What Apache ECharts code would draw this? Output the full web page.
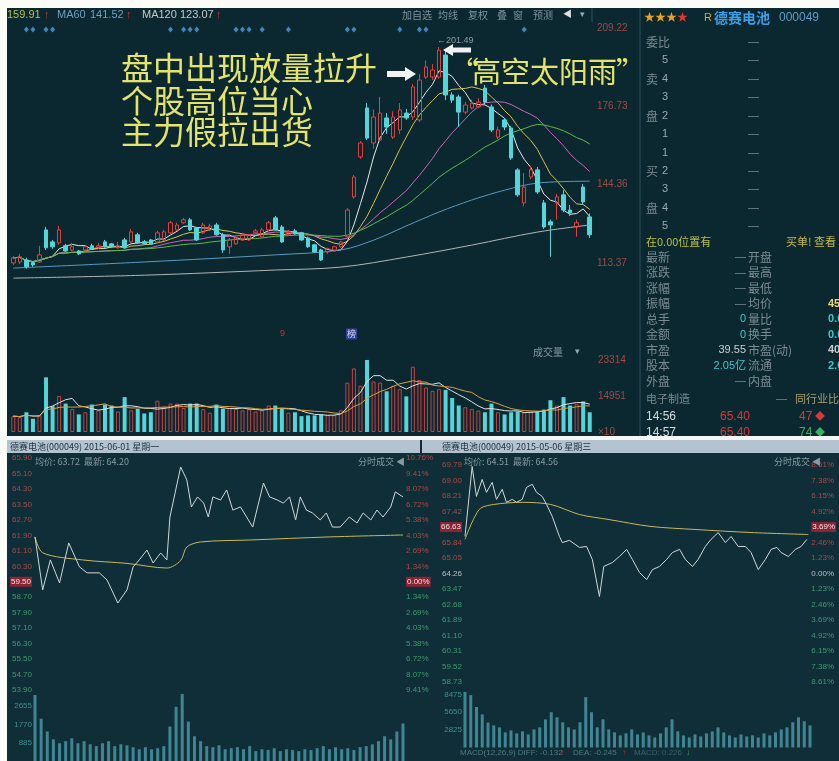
<!DOCTYPE html>
<html><head><meta charset="utf-8">
<script src="https://cdn.jsdelivr.net/npm/echarts@6/dist/echarts.min.js"></script>
<style>html,body{margin:0;padding:0;background:#fff;}#chart{width:839px;height:761px;}</style>
</head><body><div id="chart"></div>
<script>
// ---------- Daily K-line (adjusted prices) ----------
const kOpen = [113.3,113.7,114.5,113.5,113.7,126.8,121.9,121.5,120.3,118.6,
  118.2,118.6,120.3,119.5,121.9,121.1,119.5,122.7,121.9,124.8,
  122.0,122.7,121.9,122.7,125.6,126.8,129.7,130.9,127.6,125.6,
  126.8,128.8,124.8,119.9,121.1,122.7,122.7,125.6,123.9,126.8,
  131.7,128.0,124.8,126.4,125.6,123.5,120.7,118.6,117.8,118.6,
  119.9,124.0,140.3,156.6,176.6,162.3,163.5,172.5,164.7,167.6,
  174.5,172.9,171.7,189.2,189.2,189.2,198.2,181.9,181.1,174.9,
  176.6,177.0,184.7,177.0,164.7,171.7,168.4,151.3,137.8,148.4,
  151.3,137.8,130.1,137.8,141.1,134.9,128.0,144.3,132.1];
const kClose = [115.4,115.8,111.7,112.5,116.6,119.5,119.9,126.8,118.2,119.9,
  117.0,119.9,119.1,120.3,119.9,119.9,120.3,119.5,126.0,121.5,
  121.1,121.1,125.6,126.0,129.7,128.8,130.9,126.8,122.7,128.8,
  128.4,124.8,118.6,122.7,123.5,124.8,124.8,126.4,126.8,129.7,
  126.8,121.9,126.0,125.2,122.7,119.9,117.8,114.5,119.1,119.9,
  121.9,134.9,148.4,162.3,164.3,172.9,174.5,168.8,172.9,175.8,
  172.5,185.2,188.0,193.3,192.1,200.2,181.9,179.8,174.9,177.8,
  178.6,179.0,179.0,167.6,167.6,168.8,156.2,141.1,144.3,151.3,
  142.3,128.0,128.8,140.3,134.9,133.7,129.7,138.2,124.8];
const kLow = [112.5,112.9,111.0,111.7,113.3,118.6,119.1,120.7,117.8,118.2,
  116.6,118.2,118.6,119.1,119.5,119.5,119.1,119.1,121.5,121.1,
  120.7,120.7,121.5,122.3,125.2,126.4,129.3,126.4,122.3,125.2,
  126.4,124.4,117.4,117.0,120.7,122.3,122.3,125.2,123.5,126.4,
  126.4,121.5,124.4,124.8,122.3,119.5,117.4,114.1,117.0,118.2,
  119.5,123.5,139.5,155.8,163.5,160.0,162.7,166.0,163.9,166.0,
  171.7,171.7,170.9,188.4,188.0,188.4,179.8,178.6,168.8,174.0,
  176.0,176.6,178.2,166.8,163.9,167.6,155.4,140.3,136.5,147.5,
  141.5,127.2,115.8,131.0,134.0,132.5,124.0,137.0,123.5];
const kHigh = [116.2,117.0,115.4,114.1,120.3,128.0,122.7,128.4,121.1,121.5,
  118.6,120.7,121.1,121.5,122.7,121.5,121.9,123.5,127.2,125.6,
  122.7,123.1,126.4,126.8,130.5,129.7,131.7,131.7,128.0,129.7,
  129.3,129.7,125.6,123.5,124.4,125.6,125.2,127.2,127.6,130.5,
  132.5,128.8,126.8,127.2,126.0,124.0,121.1,119.1,119.5,120.3,
  122.3,135.7,149.2,163.1,178.6,176.0,181.1,174.5,175.3,178.6,
  176.2,186.4,190.4,196.0,194.5,201.49,199.8,183.0,182.0,179.0,
  180.0,180.5,186.0,178.0,169.0,172.5,169.2,152.0,150.0,153.0,
  152.5,139.0,131.0,141.5,143.0,137.0,131.0,145.5,133.5];
const kVolume = [6600,6200,8200,5500,6900,22700,10700,15000,11800,9600,
  7300,8200,11400,9000,11400,11000,8500,14500,9000,9600,
  7700,8200,13000,10500,11800,11800,10000,11800,11800,9500,
  8000,11400,9700,10000,9600,9000,9500,8500,9000,11000,
  11000,10000,8000,8200,6600,6900,6900,7300,7000,7000,
  9000,20500,26400,19200,29900,21000,20500,16900,19200,17800,
  14800,27100,21600,18500,17100,17800,17500,14100,11000,10300,
  9600,8900,8200,11800,8200,7300,8200,8600,8200,8500,
  8600,9300,13200,11000,14500,11000,11600,12700,8200];
const categories = kClose.map((_, i) => 'D' + (i + 1));
// long moving averages at a few candles: [candle index, value]
const ma60Read = [[0,111.2],[20,113.7],[40,116.6],[50,118.6],[55,122.6],[60,128.4],[65,134.1],[70,139.0],[75,143.0],[80,145.9],[88,146.7]];
const ma120Read = [[0,107.1],[20,108.3],[40,110.4],[50,111.6],[60,115.7],[70,120.6],[80,125.9],[88,128.8]];
const eventMarkers = [2,3,5,6,24,26,27,28,34,35,36,38,42,51,52,59,62,63,78];
const priceTickLabels = ['113.37','144.36','176.73','209.22'];
const volTickLabels = ['×10','14951','23314'];

// ---------- Intraday 2015-06-01 ----------
const lMin = [0,5,10,16,22,29,34,42,47,54,60,64,68,73,77,82,86,88,95,99,102,106,110,113,116,121,125,129,134,142,149,153,158,162,166,170,173,177,181,186,190,194,199,205,210,214,219,223,227,232,235,240];
const lPrice = [61.82,59.08,60.63,59.44,61.51,60.27,59.96,59.96,59.59,58.40,59.08,60.27,60.63,61.14,60.47,60.99,60.63,62.85,65.44,64.77,63.37,63.89,63.57,62.85,63.89,63.73,64.25,63.21,63.37,62.33,64.61,63.89,63.73,63.57,63.89,62.70,63.89,63.21,63.06,62.70,63.06,62.33,62.33,62.85,62.54,63.06,62.70,63.21,62.85,63.37,64.15,63.89];
const lAvgMin = [0,5,31,60,86,95,99,108,140,192,240];
const lAvg = [61.82,61.0,60.63,60.45,60.21,60.6,61.30,61.56,61.66,61.82,61.92];
const volMin = [0,4,8,12,16,20,24,28,32,36,40,44,48,52,56,60,64,68,72,76,80,84,88,92,96,100,104,108,112,116,120,124,128,132,136,140,144,148,152,156,160,164,168,172,176,180,184,188,192,196,200,204,208,212,216,220,224,228,232,236,240];
const lVol = [3200,2050,1430,1050,860,960,1100,860,960,810,720,860,960,720,810,760,670,570,670,570,620,720,1670,2630,3250,1910,1200,960,720,670,760,570,620,670,570,720,480,570,530,620,480,570,530,480,570,530,620,720,570,670,570,620,530,670,720,810,960,1200,1050,1430,1820];
const lPrevClose = 59.50, lStep = 0.80;

// ---------- Intraday 2015-05-06 ----------
const rMin = [0,5,8,12,15,19,22,26,29,33,36,40,43,47,50,54,57,61,66,68,73,80,85,89,94,97,103,108,113,117,122,127,131,136,141,145,150,154,159,163,168,172,177,182,186,191,196,200,205,210,214,218,221,226,231,235,239];
const rPrice = [66.15,69.72,68.19,69.06,68.40,68.91,68.04,68.55,67.89,68.04,67.89,68.04,68.65,68.81,68.40,68.19,67.78,67.17,66.15,65.84,65.95,65.59,65.64,64.98,63.09,64.62,64.82,65.13,65.49,64.98,64.31,63.95,64.46,64.62,64.98,65.33,65.49,64.98,64.62,64.98,65.64,66.00,66.35,65.84,66.15,65.64,65.64,65.33,64.46,64.98,65.49,65.59,65.33,65.13,65.49,65.64,66.00];
const rAvgMin = [0,10,20,40,60,80,100,130,160,200,240];
const rAvg = [66.00,67.53,67.78,67.89,67.78,67.27,67.02,66.66,66.51,66.35,66.25];
const rVol = [8900,8400,6500,5300,4000,3550,3230,2420,2740,2260,2580,2100,2900,3230,4500,5650,4840,4040,3230,2900,4040,8070,5650,3230,4520,2900,2420,1940,2260,2900,2100,2420,1940,1610,2260,3230,4520,2580,1940,1610,2100,1780,2260,2580,3230,2420,1940,1610,2100,1780,1940,1610,2260,1940,2420,2900,3230,4040,4840,4200,3550];
const rPrevClose = 64.26, rStep = 0.79;

// ---------- helpers ----------
function ma(arr, n) {
  return arr.map((_, i) => {
    const s = Math.max(0, i - n + 1); let t = 0;
    for (let k = s; k <= i; k++) t += arr[k];
    return +(t / (i - s + 1)).toFixed(2);
  });
}
function onTick(v, min, step) {
  const k = Math.round((v - min) / step);
  return Math.abs(v - (min + k * step)) < step * 0.02 ? k : -1;
}
const FONT = '"Liberation Sans","Noto Sans CJK SC",sans-serif';
const CJK = '"Noto Sans CJK SC",sans-serif';
function T(text, x, y, fill, size, o) {
  o = o || {};
  return {type:'text', x:x, y:y, z:o.z||100, silent:true,
    style:{text:text, fill:fill, font:(o.weight?o.weight+' ':'')+size+'px '+(o.family||FONT),
      textAlign:o.align||'left', align:o.align||'left', textVerticalAlign:'middle', verticalAlign:'middle',
      backgroundColor:o.bg, padding:o.pad}};
}

const UP = '#e0403c', DOWN = '#52d6da';
const lMinP = lPrevClose - 7 * lStep, lMaxP = lPrevClose + 8 * lStep;
const rMinP = rPrevClose - 7 * rStep, rMaxP = rPrevClose + 7 * rStep;

function priceAxis(grid, pos, min, max, step, pc, mode, hlIdx) {
  return {type:'value', gridIndex:grid, position:pos, min:min, max:max + step*0.004, interval:step,
    axisLine:{show:false}, axisTick:{show:false}, splitLine:{show:false},
    axisLabel:{fontSize:8, margin:3, fontFamily:FONT,
      formatter:function(v){
        const k = onTick(v, min, step); if (k < 0) return '';
        const p = min + k*step;
        const txt = mode === 'pct' ? (Math.abs(p-pc) < 1e-6 ? '0.00%' : (Math.abs((p-pc)/pc*100)).toFixed(2)+'%') : p.toFixed(2);
        return k === hlIdx ? '{h|' + txt + '}' : txt;
      },
      color:function(v){ return v > pc + 1e-6 ? '#a84a4a' : (v < pc - 1e-6 ? '#3f9a72' : '#b8c0c0'); },
      rich:{h:{backgroundColor:'#8a2434', color:'#f0e0e0', fontSize:8, padding:[1,1]}}}};
}
function volAxis(grid, max, step, color) {
  return {type:'value', gridIndex:grid, position:'left', min:0, max:max, interval:step,
    axisLine:{show:false}, axisTick:{show:false}, splitLine:{show:false},
    axisLabel:{fontSize:8, margin:3, color:color, fontFamily:FONT,
      formatter:function(v){ const k = onTick(v, 0, step); if (k <= 0 || v >= max - 1) return ''; return String(Math.round(k*step)); }}};
}

const chart = echarts.init(document.getElementById('chart'), null, {renderer:'canvas'});

const series = [];
series.push({type:'candlestick', xAxisIndex:0, yAxisIndex:0, barWidth:4,
  data:kOpen.map((o,i)=>[o,kClose[i],kLow[i],kHigh[i]]),
  itemStyle:{color:'rgba(0,0,0,0)', color0:DOWN, borderColor:UP, borderColor0:DOWN, borderWidth:1}, z:5});
[[5,'#e6e6e6'],[10,'#d8c050'],[20,'#c866b8'],[30,'#5cb84a']].forEach(([n,c])=>{
  series.push({type:'line', xAxisIndex:0, yAxisIndex:0, data:ma(kClose,n), symbol:'none', lineStyle:{width:1,color:c}, z:4});
});
series.push({type:'line', xAxisIndex:0, yAxisIndex:0, data:ma60Read, smooth:0.35, symbol:'none', lineStyle:{width:1,color:'#5a98c0'}, z:4});
series.push({type:'line', xAxisIndex:0, yAxisIndex:0, data:ma120Read, smooth:0.35, symbol:'none', lineStyle:{width:1,color:'#b4b4b4'}, z:4});
series.push({type:'scatter', xAxisIndex:0, yAxisIndex:0, data:eventMarkers.map(i=>[i,208.6]), symbol:'diamond', symbolSize:[5,6], itemStyle:{color:'#4a9fe0'}, z:6});
series.push({type:'bar', xAxisIndex:1, yAxisIndex:1, barWidth:4,
  data:kVolume.map((v,i)=> kClose[i] >= kOpen[i]
    ? {value:v, itemStyle:{color:'rgba(0,0,0,0)', borderColor:'#c84040', borderWidth:1}}
    : {value:v, itemStyle:{color:DOWN}})});
series.push({type:'line', xAxisIndex:1, yAxisIndex:1, data:ma(kVolume,5), symbol:'none', lineStyle:{width:1,color:'#e0e0e0'}, z:4});
series.push({type:'line', xAxisIndex:1, yAxisIndex:1, data:ma(kVolume,10), symbol:'none', lineStyle:{width:1,color:'#d8a040'}, z:4});
// intraday left
series.push({type:'line', xAxisIndex:2, yAxisIndex:2, data:lAvgMin.map((m,i)=>[m,lAvg[i]]), smooth:0.3, symbol:'none', lineStyle:{width:1,color:'#c8b860'}});
series.push({type:'line', xAxisIndex:2, yAxisIndex:2, data:lMin.map((m,i)=>[m,lPrice[i]]), symbol:'none', lineStyle:{width:1,color:'#d0d8d8'}});
series.push({type:'bar', xAxisIndex:3, yAxisIndex:4, barWidth:3, data:volMin.map((m,i)=>[m,lVol[i]]), itemStyle:{color:'#428592'}});
// intraday right
series.push({type:'line', xAxisIndex:4, yAxisIndex:5, data:rAvgMin.map((m,i)=>[m,rAvg[i]]), smooth:0.3, symbol:'none', lineStyle:{width:1,color:'#c8b860'}});
series.push({type:'line', xAxisIndex:4, yAxisIndex:5, data:rMin.map((m,i)=>[m,rPrice[i]]), symbol:'none', lineStyle:{width:1,color:'#d0d8d8'}});
series.push({type:'bar', xAxisIndex:5, yAxisIndex:7, barWidth:3, data:volMin.map((m,i)=>[m,rVol[i]]), itemStyle:{color:'#428592'}});

const hidX = (g, type) => type === 'category'
  ? {type:'category', gridIndex:g, data:categories, show:false, boundaryGap:true}
  : {type:'value', gridIndex:g, min:0, max:240, show:false};

const G = [];
// backgrounds & frames
G.push({type:'rect', z:-10, silent:true, shape:{x:7,y:440,width:832,height:321}, style:{fill:'#0f2e37'}});
G.push({type:'rect', z:200, silent:true, shape:{x:0,y:0,width:7,height:761}, style:{fill:'#fbfbf8'}});
G.push({type:'rect', z:200, silent:true, shape:{x:0,y:0,width:839,height:8}, style:{fill:'#fbfbf8'}});
G.push({type:'rect', z:200, silent:true, shape:{x:0,y:436,width:839,height:4}, style:{fill:'#f4f6f6'}});
G.push({type:'rect', z:150, silent:true, shape:{x:7,y:440,width:413,height:13}, style:{fill:'#b3c4d0'}});
G.push({type:'rect', z:150, silent:true, shape:{x:422,y:440,width:417,height:13}, style:{fill:'#b3c4d0'}});
G.push({type:'line', z:50, silent:true, shape:{x1:640,y1:8,x2:640,y2:436}, style:{stroke:'#33505a', lineWidth:1}});
G.push({type:'line', z:50, silent:true, shape:{x1:592,y1:8,x2:592,y2:22}, style:{stroke:'#33505a', lineWidth:1}});
// top header
G.push(T('159.91',7,15,'#b6c050',11));
G.push(T('↑',44,15,'#e03030',11));
G.push(T('MA60',57,15,'#6f9fc0',11));
G.push(T('141.52',90,15,'#6f9fc0',11));
G.push(T('↑',126,15,'#e03030',11));
G.push(T('MA120',142,15,'#c8c8c8',11));
G.push(T('123.07',180,15,'#c8c8c8',11));
G.push(T('↑',216,15,'#e03030',11));
G.push(T('加自选',402,15,'#7f929c',10,{family:CJK}));
G.push(T('均线',438,15,'#7f929c',10,{family:CJK}));
G.push(T('复权',468,15,'#7f929c',10,{family:CJK}));
G.push(T('叠',497,15,'#7f929c',10,{family:CJK}));
G.push(T('窗',513,15,'#7f929c',10,{family:CJK}));
G.push(T('预测',533,15,'#7f929c',10,{family:CJK}));
G.push(T('◀',563,15,'#e0e0e0',9));
G.push(T('▾',580,15,'#9aaab0',9));
G.push(T('←201.49',437,41,'#8a9aa6',9));
// annotations
const ANN = '#e4e46c';
G.push(T('盘中出现放量拉升',121,68,ANN,32,{family:CJK}));
G.push(T('个股高位当心',121,101,ANN,32,{family:CJK}));
G.push(T('主力假拉出货',121,132,ANN,32,{family:CJK}));
G.push(T('“',449,72,ANN,30,{family:CJK}));
G.push(T('高空太阳雨',472,72,ANN,29,{family:CJK}));
G.push(T('”',616,72,ANN,30,{family:CJK}));
G.push({type:'polygon', z:120, silent:true, shape:{points:[[387,71],[405,71],[405,67],[416,74],[405,81],[405,77],[387,77]]}, style:{fill:'#f2f2f2'}});
G.push({type:'polygon', z:120, silent:true, shape:{points:[[443,50],[453,44],[453,47.5],[471,47.5],[471,52.5],[453,52.5],[453,56]]}, style:{fill:'#f2f2f2'}});
// small markers above volume
G.push(T('9',280,334,'#c83030',9));
G.push(T('榜',346,334,'#dcdcf4',9,{family:CJK, bg:'#34409a', pad:[1,1]}));
G.push(T('成交量',533,352,'#8898a2',10,{family:CJK}));
G.push(T('▾',575,352,'#9aaab0',9));
// right info panel
G.push(T('★★★',644,18,'#f0a020',11));
G.push(T('★',677,18,'#e03a2a',11));
G.push(T('R',704,18,'#d8a828',11));
G.push(T('德赛电池',714,18,'#3c9ee6',14,{family:CJK, weight:'bold'}));
G.push(T('000049',779,18,'#5e9ec4',12));
const GRAY = '#7b8b93';
G.push(T('委比',646,42,GRAY,12,{family:CJK}));
G.push(T('—',748,42,GRAY,11));
const bookRows = [['',5,60],['卖',4,79],['',3,97],['盘',2,116],['',1,134],['',1,153],['买',2,171],['',3,189],['盘',4,208],['',5,226]];
bookRows.forEach(([lab,n,y])=>{
  if (lab) G.push(T(lab,646,y,GRAY,12,{family:CJK}));
  G.push(T(String(n),662,y,'#9aa8b0',11));
  G.push(T('—',748,y,GRAY,11));
});
G.push(T('在0.00位置有',646,242,'#b6c044',11,{family:CJK}));
G.push(T('买单! 查看',786,242,'#c8b844',11,{family:CJK}));
const infoRows = [
  ['最新','—','开盘','', '#a8b4b8'],
  ['涨跌','—','最高','', '#a8b4b8'],
  ['涨幅','—','最低','', '#a8b4b8'],
  ['振幅','—','均价','45.53', '#e8d870'],
  ['总手','0','量比','0.00', '#3cc8c8'],
  ['金额','0','换手','0.00%', '#3cc8c8'],
  ['市盈','39.55','市盈(动)','40.12', '#c8d0d0'],
  ['股本','2.05亿','流通','2.03亿', '#3cc8c8'],
  ['外盘','—','内盘','', '#a8b4b8']];
infoRows.forEach((r,i)=>{
  const y = 257 + i*15.5;
  G.push(T(r[0],646,y,GRAY,12,{family:CJK}));
  const vc = r[1] === '—' ? GRAY : (r[1] === '39.55' ? '#c8d0d0' : '#3cc8c8');
  G.push(T(r[1],746,y,vc,11,{align:'right'}));
  G.push(T(r[2],748,y,GRAY,12,{family:CJK}));
  if (r[3]) G.push(T(r[3], 828, y, r[4], 11, {weight:'bold'}));
});
G.push(T('电子制造',646,399,GRAY,11,{family:CJK}));
G.push(T('—',776,399,GRAY,11));
G.push(T('同行业比',795,399,'#a8a070',11,{family:CJK}));
G.push(T('14:56',646,417,'#d4dcdc',12));
G.push(T('65.40',720,417,'#d83838',12));
G.push(T('47',799,417,'#d83838',12));
G.push(T('◆',815,417,'#d83838',10));
G.push(T('14:57',646,433,'#d4dcdc',12));
G.push(T('65.40',720,433,'#d83838',12));
G.push(T('74',799,433,'#3cb060',12));
G.push(T('◆',815,433,'#3cb060',10));
// intraday headers
G.push(T('德赛电池(000049) 2015-06-01 星期一',10,446.5,'#233442',9,{family:CJK, z:160}));
G.push(T('德赛电池(000049) 2015-05-06 星期三',442,446.5,'#233442',9,{family:CJK, z:160}));
G.push(T('均价: 63.72  最新: 64.20',35,462,'#8a9aa2',9,{family:CJK}));
G.push(T('分时成交 ◀',358,462,'#8a9aa2',9,{family:CJK}));
G.push(T('均价: 64.51  最新: 64.56',464,462,'#8a9aa2',9,{family:CJK}));
G.push(T('分时成交 ◀',774,462,'#8a9aa2',9,{family:CJK}));
G.push(T('MACD(12,26,9) DIFF: -0.132',460,753,'#4c7c88',8));
G.push(T('↑',560,753,'#c83030',8));
G.push(T('DEA: -0.245',573,753,'#4c7c88',8));
G.push(T('↑',622,753,'#c83030',8));
G.push(T('MACD: 0.226',634,753,'#3c6470',8));
G.push(T('↓',686,753,'#3cb060',8));

const option = {
  animation:false,
  backgroundColor:'#0b2830',
  textStyle:{fontFamily:FONT},
  grid:[
    {left:10, top:28, width:583, height:313},
    {left:10, top:360, width:583, height:72},
    {left:35, top:458, width:368, height:232},
    {left:35, top:688, width:368, height:75},
    {left:465, top:465, width:345, height:217},
    {left:465, top:677, width:345, height:70.5}
  ],
  xAxis:[hidX(0,'category'), hidX(1,'category'), hidX(2), hidX(3), hidX(4), hidX(5)],
  yAxis:[
    {type:'value', gridIndex:0, position:'right', min:81.42, max:209.25, interval:31.95,
      axisLine:{show:false}, axisTick:{show:false}, splitLine:{show:false},
      axisLabel:{margin:4, fontSize:10, color:'#a04a48', fontFamily:FONT,
        formatter:function(v){ const k = onTick(v,81.42,31.95); return k >= 1 && k <= 4 ? priceTickLabels[k-1] : ''; }}},
    {type:'value', gridIndex:1, position:'right', min:0, max:29910, interval:14951,
      axisLine:{show:false}, axisTick:{show:false}, splitLine:{show:false},
      axisLabel:{margin:5, fontSize:10, color:'#a04a48', fontFamily:FONT,
        formatter:function(v){ const k = onTick(v,0,14951); return k >= 0 && k <= 2 ? volTickLabels[k] : ''; }}},
    priceAxis(2,'left',lMinP,lMaxP,lStep,lPrevClose,'price',7),
    priceAxis(2,'right',lMinP,lMaxP,lStep,lPrevClose,'pct',7),
    volAxis(3,3540,885,'#3f8f92'),
    priceAxis(4,'left',rMinP,rMaxP,rStep,rPrevClose,'price',10),
    priceAxis(4,'right',rMinP,rMaxP,rStep,rPrevClose,'pct',10),
    volAxis(5,11300,2825,'#3f8f92')
  ],
  graphic:{elements:G},
  series:series
};
chart.setOption(option);
</script></body></html>
